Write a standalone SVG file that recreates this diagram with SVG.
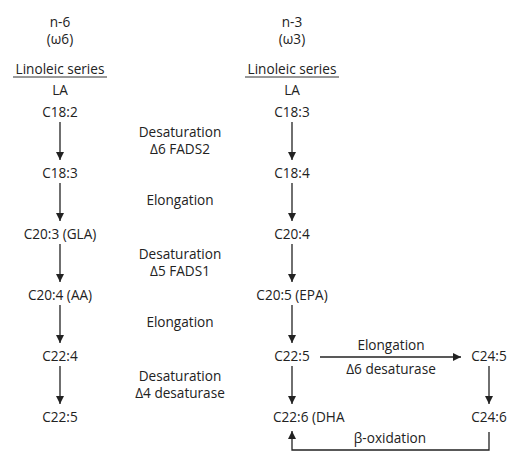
<svg xmlns="http://www.w3.org/2000/svg" width="528" height="459" viewBox="0 0 528 459">
<style>
text{font-family:"Open Sans","Liberation Sans",sans-serif;font-size:13.6px;fill:#222;text-anchor:middle}
.c{stroke:#222;stroke-width:1.3;fill:none}
.u{stroke:#333;stroke-width:1}
</style>
<defs>
<marker id="ah" viewBox="0 0 10 10" refX="10" refY="5" markerWidth="8" markerHeight="8" markerUnits="userSpaceOnUse" orient="auto">
<path d="M0,0 L10,5 L0,10 Z" fill="#222"/>
</marker>
</defs>
<rect width="528" height="459" fill="#fff"/>
<g id="n6-header">
<text x="60" y="27">n-6</text>
<text x="60" y="44">(ω6)</text>
<text x="60" y="74">Linoleic series</text>
<line class="u" x1="13" y1="77" x2="107" y2="77"/>
<text x="60" y="95">LA</text>
</g>
<g id="n3-header">
<text x="292" y="27">n-3</text>
<text x="292" y="44">(ω3)</text>
<text x="292" y="74">Linoleic series</text>
<line class="u" x1="245" y1="77" x2="339" y2="77"/>
<text x="292" y="95">LA</text>
</g>
<g id="l1"><text x="60" y="117">C18:2</text></g>
<g id="l2"><text x="60" y="178">C18:3</text></g>
<g id="l3"><text x="60" y="239">C20:3 (GLA)</text></g>
<g id="l4"><text x="60" y="300">C20:4 (AA)</text></g>
<g id="l5"><text x="60" y="361">C22:4</text></g>
<g id="l6"><text x="60" y="422">C22:5</text></g>
<g id="r1"><text x="292" y="117">C18:3</text></g>
<g id="r2"><text x="292" y="178">C18:4</text></g>
<g id="r3"><text x="292" y="239">C20:4</text></g>
<g id="r4"><text x="292" y="300">C20:5 (EPA)</text></g>
<g id="r5"><text x="292" y="361">C22:5</text></g>
<g id="r6"><text x="273" y="422" style="text-anchor:start">C22:6 (DHA</text></g>
<g id="r7"><text x="489" y="361">C24:5</text></g>
<g id="r8"><text x="489" y="422">C24:6</text></g>
<g id="labels">
<text x="180" y="137">Desaturation</text>
<text x="180" y="154">Δ6 FADS2</text>
<text x="180" y="205">Elongation</text>
<text x="180" y="259">Desaturation</text>
<text x="180" y="276">Δ5 FADS1</text>
<text x="180" y="327">Elongation</text>
<text x="180" y="381">Desaturation</text>
<text x="180" y="398">Δ4 desaturase</text>
<text x="391" y="350">Elongation</text>
<text x="391" y="374">Δ6 desaturase</text>
<text x="390" y="443">β-oxidation</text>
</g>
<g id="connectors">
<line class="c" x1="60" y1="122" x2="60" y2="160" marker-end="url(#ah)"/>
<line class="c" x1="60" y1="183" x2="60" y2="221" marker-end="url(#ah)"/>
<line class="c" x1="60" y1="244" x2="60" y2="282" marker-end="url(#ah)"/>
<line class="c" x1="60" y1="305" x2="60" y2="343" marker-end="url(#ah)"/>
<line class="c" x1="60" y1="366" x2="60" y2="404" marker-end="url(#ah)"/>
<line class="c" x1="292" y1="122" x2="292" y2="160" marker-end="url(#ah)"/>
<line class="c" x1="292" y1="183" x2="292" y2="221" marker-end="url(#ah)"/>
<line class="c" x1="292" y1="244" x2="292" y2="282" marker-end="url(#ah)"/>
<line class="c" x1="292" y1="305" x2="292" y2="343" marker-end="url(#ah)"/>
<line class="c" x1="292" y1="366" x2="292" y2="404" marker-end="url(#ah)"/>
<line class="c" x1="320" y1="357" x2="461" y2="357" marker-end="url(#ah)"/>
<line class="c" x1="489" y1="366" x2="489" y2="404" marker-end="url(#ah)"/>
<polyline class="c" points="489,432 489,450 292,450 292,431" marker-end="url(#ah)"/>
</g>
</svg>
